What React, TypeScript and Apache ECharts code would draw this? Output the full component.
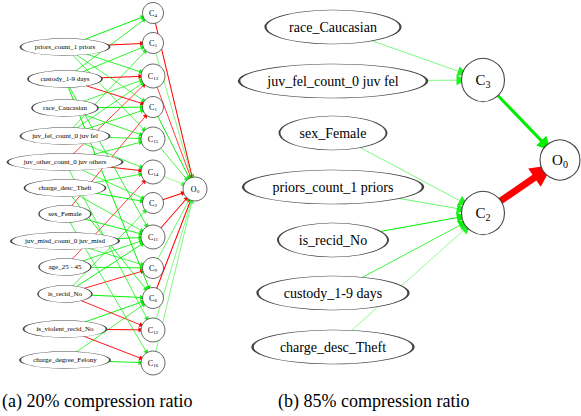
import React, { useEffect, useRef } from "react";
import * as echarts from "echarts";

// ---------- Panel (a): 20% compression ratio ----------
const inputsA = [
  "priors_count_1 priors",
  "custody_1-9 days",
  "race_Caucasian",
  "juv_fel_count_0 juv fel",
  "juv_other_count_0 juv others",
  "charge_desc_Theft",
  "sex_Female",
  "juv_misd_count_0 juv_misd",
  "age_25 - 45",
  "is_recid_No",
  "is_violent_recid_No",
  "charge_degree_Felony",
];
const inputRowsA = [47, 79, 108, 136, 162, 188, 214, 241, 267, 294, 329, 360];
const hiddenA = [4, 5, 13, 1, 15, 14, 2, 11, 9, 6, 12, 16];
const hiddenRowsA = [13, 43, 76, 107, 139, 172, 203, 237, 268, 298, 330, 363];
const outputRowA = 189;
// [input index, hidden id, signed weight]
const inEdgesA: [number, number, number][] = [
  [0, 4, 0.8], [1, 4, 0.6],
  [0, 5, -0.8], [1, 5, 0.6], [3, 5, 0.5],
  [1, 13, -0.8], [0, 13, 0.6], [2, 13, 0.5], [4, 13, -0.5], [3, 13, 0.5],
  [1, 1, -0.7], [2, 1, 0.8], [0, 1, 0.5], [3, 1, 0.6], [6, 1, -0.5],
  [2, 15, 0.6], [3, 15, 0.6], [0, 15, 0.5], [4, 15, 0.6],
  [4, 14, -0.8], [3, 14, 0.5], [5, 14, 0.6], [8, 14, -0.5],
  [5, 2, 0.7], [4, 2, 0.5], [9, 2, 0.5],
  [6, 11, 0.7], [7, 11, 0.7], [5, 11, 0.5], [8, 11, 0.6], [9, 11, 0.7], [1, 11, 0.6],
  [8, 9, 0.7], [9, 9, -0.6], [7, 9, 0.5],
  [9, 6, 0.8], [1, 6, 0.8], [5, 6, 0.6], [10, 6, 0.7], [11, 6, 0.5],
  [10, 12, -0.8], [9, 12, -0.6], [4, 12, 0.5],
  [11, 16, 0.7], [10, 16, -0.7], [6, 16, 0.5],
];
// [hidden id, signed weight] to O0
const outEdgesA: [number, number][] = [
  [4, -0.8], [5, 0.3], [13, -0.5], [1, 0.7], [15, 0.5], [14, 0.2],
  [2, -0.8], [11, -0.8], [9, 0.4], [6, -0.8], [12, 0.3], [16, 0.3],
];

// ---------- Panel (b): 85% compression ratio ----------
const inputsB = [
  "race_Caucasian",
  "juv_fel_count_0 juv fel",
  "sex_Female",
  "priors_count_1 priors",
  "is_recid_No",
  "custody_1-9 days",
  "charge_desc_Theft",
];
const inputRowsB = [27, 81, 133, 187, 240, 293, 347];
const hiddenB = [3, 2];
const hiddenRowsB = [80, 213];
const outputRowB = 160;
const inEdgesB: [number, number, number][] = [
  [0, 3, 0.4], [1, 3, 0.4],
  [2, 2, 0.4], [3, 2, 0.45], [4, 2, 0.8], [5, 2, 0.55], [6, 2, 0.35],
];
const outEdgesB: [number, number][] = [[3, 1.5], [2, -3.4]];

const captions = ["(a) 20% compression ratio", "(b) 85% compression ratio"];

const SERIF = "serif";

function mix(rgb: number[], m: number) {
  const k = 0.45 + 0.55 * Math.min(1, m);
  const c = rgb.map((v) => Math.round(255 - (255 - v) * k));
  return `rgb(${c[0]},${c[1]},${c[2]})`;
}
function edgeColor(w: number) {
  return w > 0 ? mix([0, 240, 0], Math.abs(w) + 0.3) : mix([255, 0, 0], Math.abs(w) + 0.4);
}

function subLabel(main: string, sub: string | number, big: number, small: number, drop: number) {
  return {
    show: true,
    position: "inside",
    formatter: `{c|${main}}{s|${sub}}`,
    rich: {
      c: { fontFamily: SERIF, fontSize: big, color: "#000" },
      s: { fontFamily: SERIF, fontSize: small, color: "#000", padding: [drop, 0, 0, 0] },
    },
  };
}

export default function App() {
  const ref = useRef<HTMLDivElement>(null);
  useEffect(() => {
    if (!ref.current) return;
    const chart = echarts.init(ref.current, undefined, { renderer: "svg" });

    const colA = [65, 153, 195];
    const colB = [333, 483, 560];
    const nodeStyle = { color: "#fff", borderColor: "#444", borderWidth: 0.8 };

    const inWidthA = [89, 74, 66, 89, 115, 81, 52, 108, 52, 54, 83, 90];
    const dataA: any[] = [];
    inputsA.forEach((n, i) =>
      dataA.push({
        name: n,
        value: [colA[0], inputRowsA[i]],
        symbolSize: [inWidthA[i], 17],
        label: { show: true, position: "inside", fontFamily: SERIF, fontSize: 7, color: "#000" },
      })
    );
    hiddenA.forEach((h, i) =>
      dataA.push({
        name: "C" + h,
        value: [colA[1], hiddenRowsA[i]],
        symbolSize: h >= 10 ? 24 : 21,
        label: subLabel("C", h, 8, 5, 4),
      })
    );
    dataA.push({ name: "O0", value: [colA[2], outputRowA], symbolSize: 24, label: subLabel("O", 0, 8, 5, 4) });

    const linksA: any[] = [];
    inEdgesA.forEach(([f, h, w]) =>
      linksA.push({
        source: inputsA[f],
        target: "C" + h,
        lineStyle: { color: edgeColor(w), width: 0.5 + 0.6 * Math.abs(w), opacity: 1 },
      })
    );
    outEdgesA.forEach(([h, w]) =>
      linksA.push({
        source: "C" + h,
        target: "O0",
        lineStyle: { color: edgeColor(w), width: 0.4 + 0.8 * Math.abs(w), opacity: 1 },
      })
    );

    const inWidthB = [135, 188, 107, 180, 110, 151, 161];
    const dataB: any[] = [];
    inputsB.forEach((n, i) =>
      dataB.push({
        name: n,
        value: [colB[0], inputRowsB[i]],
        symbolSize: [inWidthB[i], 34],
        label: { show: true, position: "inside", fontFamily: SERIF, fontSize: 14, color: "#000" },
      })
    );
    hiddenB.forEach((h, i) =>
      dataB.push({
        name: "C" + h,
        value: [colB[1], hiddenRowsB[i]],
        symbolSize: 43,
        label: subLabel("C", h, 15, 10, 8),
      })
    );
    dataB.push({ name: "O0", value: [colB[2], outputRowB], symbolSize: 40, label: subLabel("O", 0, 15, 10, 8) });

    const linksB: any[] = [];
    inEdgesB.forEach(([f, h, w]) =>
      linksB.push({
        source: inputsB[f],
        target: "C" + h,
        symbolSize: [0, 10],
        lineStyle: { color: edgeColor(w + 0.1), width: 1.4 * w, opacity: 1 },
      })
    );
    outEdgesB.forEach(([h, w]) =>
      linksB.push({
        source: "C" + h,
        target: "O0",
        symbolSize: [0, Math.abs(w) > 2 ? 22 : 14],
        lineStyle: { color: w > 0 ? "#00ee00" : "#ff0000", width: 2 * Math.abs(w), opacity: 1 },
      })
    );

    const arrow = "path://M5,0 L10,10 L0,10 Z";
    const common = {
      type: "graph",
      coordinateSystem: "cartesian2d",
      silent: true,
      edgeSymbol: ["none", arrow],
      itemStyle: nodeStyle,
      lineStyle: { opacity: 1 },
      emphasis: { disabled: true },
      z: 2,
    };

    chart.setOption({
      animation: false,
      grid: { left: 0, top: 0, width: 581, height: 416, outerBoundsMode: "none" },
      xAxis: { type: "value", min: 0, max: 581, show: false },
      yAxis: { type: "value", min: 0, max: 416, inverse: true, show: false },
      title: captions.map((t, i) => ({
        text: t,
        left: i === 0 ? 2 : 278,
        top: 392,
        padding: 0,
        textStyle: { fontFamily: SERIF, fontSize: 18, fontWeight: "normal", color: "#000" },
      })),
      series: [
        { ...common, data: dataA, links: linksA, edgeSymbolSize: [0, 5] },
        { ...common, data: dataB, links: linksB, edgeSymbolSize: [0, 10], itemStyle: { ...nodeStyle, borderWidth: 1.1 } },
      ],
    });
    return () => chart.dispose();
  }, []);
  return <div ref={ref} style={{ position: "fixed", left: 0, top: 0, width: 581, height: 416, background: "#fff" }} />;
}
